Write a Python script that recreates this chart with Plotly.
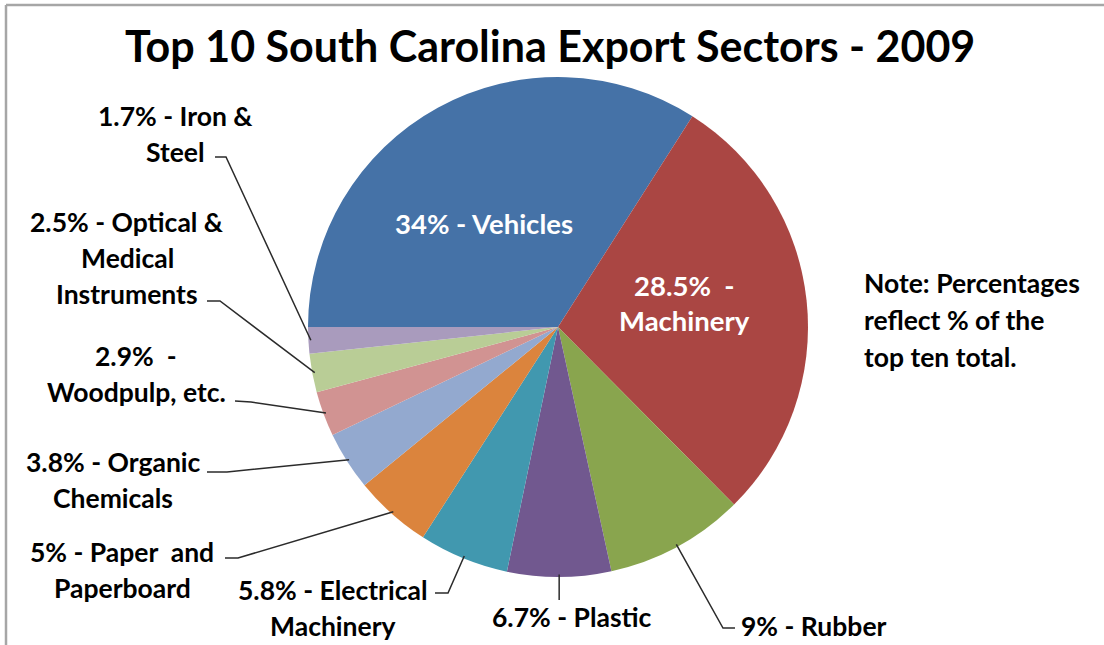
import math
import plotly.graph_objects as go

W, H = 1104, 645

title = "Top 10 South Carolina Export Sectors - 2009"
sectors = ["Vehicles", "Machinery", "Rubber", "Plastic", "Electrical Machinery",
           "Paper and Paperboard", "Organic Chemicals", "Woodpulp, etc.",
           "Optical & Medical Instruments", "Iron & Steel"]
shares = [34, 28.5, 9, 6.7, 5.8, 5, 3.8, 2.9, 2.5, 1.7]
colors = ["#4572A7", "#AA4643", "#89A54E", "#71588F", "#4198AF",
          "#DB843D", "#93A9CF", "#D19392", "#B9CD96", "#A99BBD"]

# label lines (text) for each sector, drawn as separate rows
label_lines = [
    ["34% - Vehicles"],
    ["28.5%  -", "Machinery"],
    ["9% - Rubber"],
    ["6.7% - Plastic"],
    ["5.8% - Electrical", "Machinery"],
    ["5% - Paper  and", "Paperboard"],
    ["3.8% - Organic", "Chemicals"],
    ["2.9%  -", "Woodpulp, etc."],
    ["2.5% - Optical &", "Medical", "Instruments"],
    ["1.7% - Iron &", "Steel"],
]
note_lines = ["Note: Percentages", "reflect % of the", "top ten total."]

# ---- layout (pixels) ----
cx, cy, R = 558, 327, 250
rotation = 270

label_pos = [  # (x center, first row y) in px
    (484, 223), (684, 285), (814, 626), (572, 617), (333, 590),
    (122, 552), (113, 462), (136, 356), (127, 222), (176, 116),
]
row_gap = 36
# leader line elbows (label side points) in px, None = no leader line
elbows = [
    None, None,
    [(735, 628), (723, 628)],
    [("pie", 600)],
    [(435, 593), (448, 593)],
    [(225, 558), (238, 558)],
    [(207, 472), (227, 472)],
    [(235, 401), (251, 402)],
    [(207, 301), (220, 301)],
    [(215, 157), (226, 157)],
]
inside = [True, True] + [False] * 8

def px(x):
    return x / W

def py(y):
    return 1 - y / H

FONT = "Lato"
fig = go.Figure(go.Pie(
    labels=sectors, values=shares, sort=False, direction="clockwise",
    rotation=rotation, textinfo="none", hoverinfo="label+value",
    marker=dict(colors=colors, line=dict(width=0)),
    domain=dict(x=[px(cx - R), px(cx + R)], y=[py(cy + R), py(cy - R)]),
    showlegend=False,
))

annotations = []
shapes = []

annotations.append(dict(text=title, x=px(550), y=py(45), xref="paper", yref="paper",
                        showarrow=False, xanchor="center", yanchor="middle",
                        font=dict(family=FONT, size=43, color="#000000", weight="bold")))

total = sum(shares)
cum = 0
for i, v in enumerate(shares):
    mid = math.radians(rotation + (cum + v / 2) * 360 / total)
    cum += v
    ex = cx + 0.99 * R * math.sin(mid)
    ey = cy - 0.99 * R * math.cos(mid)
    lx, ly = label_pos[i]
    col = "#FFFFFF" if inside[i] else "#000000"
    size = 27.5 if inside[i] else 26.5
    for k, t in enumerate(label_lines[i]):
        annotations.append(dict(text=t, x=px(lx), y=py(ly + k * row_gap),
                                xref="paper", yref="paper", showarrow=False,
                                xanchor="center", yanchor="middle",
                                font=dict(family=FONT, size=size, color=col, weight="bold")))
    if elbows[i]:
        pts = []
        for (a, b) in elbows[i]:
            pts.append((ex if a == "pie" else a, b))
        pts.append((ex, ey))
        path = "M " + " L ".join(f"{px(a):.5f},{py(b):.5f}" for a, b in pts)
        shapes.append(dict(type="path", path=path, xref="paper", yref="paper",
                           line=dict(color="#2b2b2b", width=1.5)))

for k, t in enumerate(note_lines):
    annotations.append(dict(text=t, x=px(862), y=py(283 + k * 37), xref="paper", yref="paper",
                            showarrow=False, xanchor="left", yanchor="middle",
                            font=dict(family=FONT, size=26.5, color="#000000", weight="bold")))

# chart area border (top and left edges visible)
shapes.append(dict(type="line", xref="paper", yref="paper",
                   x0=px(6), x1=1.0, y0=py(5), y1=py(5),
                   line=dict(color="#A6A6A6", width=2.5)))
shapes.append(dict(type="line", xref="paper", yref="paper",
                   x0=px(6), x1=px(6), y0=0.0, y1=py(5),
                   line=dict(color="#A6A6A6", width=2.5)))

fig.update_layout(
    width=W, height=H, margin=dict(l=0, r=0, t=0, b=0),
    paper_bgcolor="#FFFFFF", plot_bgcolor="#FFFFFF",
    annotations=annotations, shapes=shapes,
)
fig.write_html("out.html", config={"displayModeBar": False},
               post_script="document.documentElement.style.overflow='hidden';"
                           "document.body.style.margin='0';document.body.style.overflow='hidden';")
